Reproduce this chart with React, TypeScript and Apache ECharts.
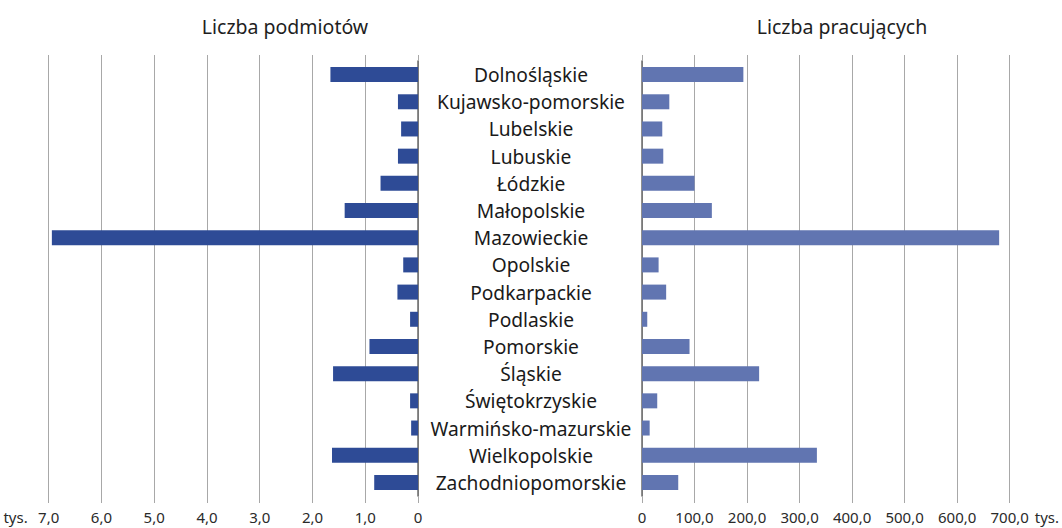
import React, { useEffect, useRef } from "react";
import * as echarts from "echarts";

const regions = [
  "Dolnośląskie",
  "Kujawsko-pomorskie",
  "Lubelskie",
  "Lubuskie",
  "Łódzkie",
  "Małopolskie",
  "Mazowieckie",
  "Opolskie",
  "Podkarpackie",
  "Podlaskie",
  "Pomorskie",
  "Śląskie",
  "Świętokrzyskie",
  "Warmińsko-mazurskie",
  "Wielkopolskie",
  "Zachodniopomorskie",
];

// tys. podmiotów
const entities = [1.66, 0.38, 0.32, 0.38, 0.71, 1.39, 6.94, 0.28, 0.39, 0.15, 0.92, 1.61, 0.15, 0.13, 1.63, 0.83];
// tys. pracujących
const workers = [193, 52, 38.6, 40.5, 100, 133, 680, 31.6, 46, 10, 90.5, 223, 29, 14.6, 333, 69];

const leftTitle = "Liczba podmiotów";
const rightTitle = "Liczba pracujących";

const FONT = "'Noto Sans', sans-serif";
const fmt1 = (v: number) => (v === 0 ? "0" : v.toFixed(1).replace(".", ","));

export default function App() {
  const ref = useRef<HTMLDivElement>(null);
  useEffect(() => {
    document.body.style.margin = "0";
    const chart = echarts.init(ref.current!, undefined, { renderer: "svg" });
    const gridTop = 61;
    const gridH = 435;
    const splitLine = { show: true, lineStyle: { color: "#a8a8a8", width: 1 } };
    const labelStyle = { color: "#2a2a2a", fontSize: 15, fontFamily: FONT };
    const titleStyle = { fontSize: 19.5, fontWeight: "normal", color: "#1e1e1e", fontFamily: FONT };
    chart.setOption({
      animation: false,
      backgroundColor: "#fff",
      textStyle: { fontFamily: FONT },
      title: [
        { text: leftTitle, left: 280, top: 11, textAlign: "center", textStyle: titleStyle },
        { text: rightTitle, left: 837, top: 11, textAlign: "center", textStyle: titleStyle },
      ],
      grid: [
        { left: 48.7, width: 369.3, top: gridTop, height: gridH },
        { left: 642, width: 369.7, top: gridTop, height: gridH },
      ],
      xAxis: [
        {
          gridIndex: 0, type: "value", min: 0, max: 7, interval: 1, inverse: true, position: "bottom",
          axisLine: { show: false },
          axisTick: { show: true, length: 7, lineStyle: { color: "#a8a8a8" } },
          splitLine,
          axisLabel: { ...labelStyle, margin: 13, formatter: fmt1 },
          name: "tys.", nameLocation: "end", nameGap: 21,
          nameTextStyle: { ...labelStyle, verticalAlign: "top", padding: [13, 0, 0, 0] },
        },
        {
          gridIndex: 1, type: "value", min: 0, max: 700, interval: 100, position: "bottom",
          axisLine: { show: false },
          axisTick: { show: true, length: 7, lineStyle: { color: "#a8a8a8" } },
          splitLine,
          axisLabel: { ...labelStyle, margin: 13, formatter: fmt1 },
          name: "tys.", nameLocation: "end", nameGap: 25,
          nameTextStyle: { ...labelStyle, verticalAlign: "top", padding: [13, 0, 0, 0] },
        },
        {
          gridIndex: 0, type: "value", min: 0, max: 7, interval: 1, inverse: true, position: "top",
          axisLine: { show: false }, axisLabel: { show: false }, splitLine: { show: false },
          axisTick: { show: true, length: 6, lineStyle: { color: "#a8a8a8" } },
        },
        {
          gridIndex: 1, type: "value", min: 0, max: 700, interval: 100, position: "top",
          axisLine: { show: false }, axisLabel: { show: false }, splitLine: { show: false },
          axisTick: { show: true, length: 6, lineStyle: { color: "#a8a8a8" } },
        },
      ],
      yAxis: [
        {
          gridIndex: 0, type: "category", data: regions, inverse: true, position: "right",
          axisLine: { show: true, lineStyle: { color: "#6a6a6a", width: 1.5 } },
          axisTick: { show: false },
          axisLabel: { show: true, align: "center", margin: 113, fontSize: 19.2, color: "#1a1a1a", fontFamily: FONT },
        },
        {
          gridIndex: 1, type: "category", data: regions, inverse: true, position: "left",
          axisLine: { show: true, lineStyle: { color: "#6a6a6a", width: 1.5 } },
          axisTick: { show: false },
          axisLabel: { show: false },
        },
      ],
      series: [
        {
          type: "bar", xAxisIndex: 0, yAxisIndex: 0, data: entities, barWidth: 15,
          itemStyle: { color: "#2e4b96" },
        },
        {
          type: "bar", xAxisIndex: 1, yAxisIndex: 1, data: workers, barWidth: 15,
          itemStyle: { color: "#6175b1" },
        },
      ],
    });
    return () => chart.dispose();
  }, []);
  return <div ref={ref} style={{ width: 1062, height: 528 }} />;
}
